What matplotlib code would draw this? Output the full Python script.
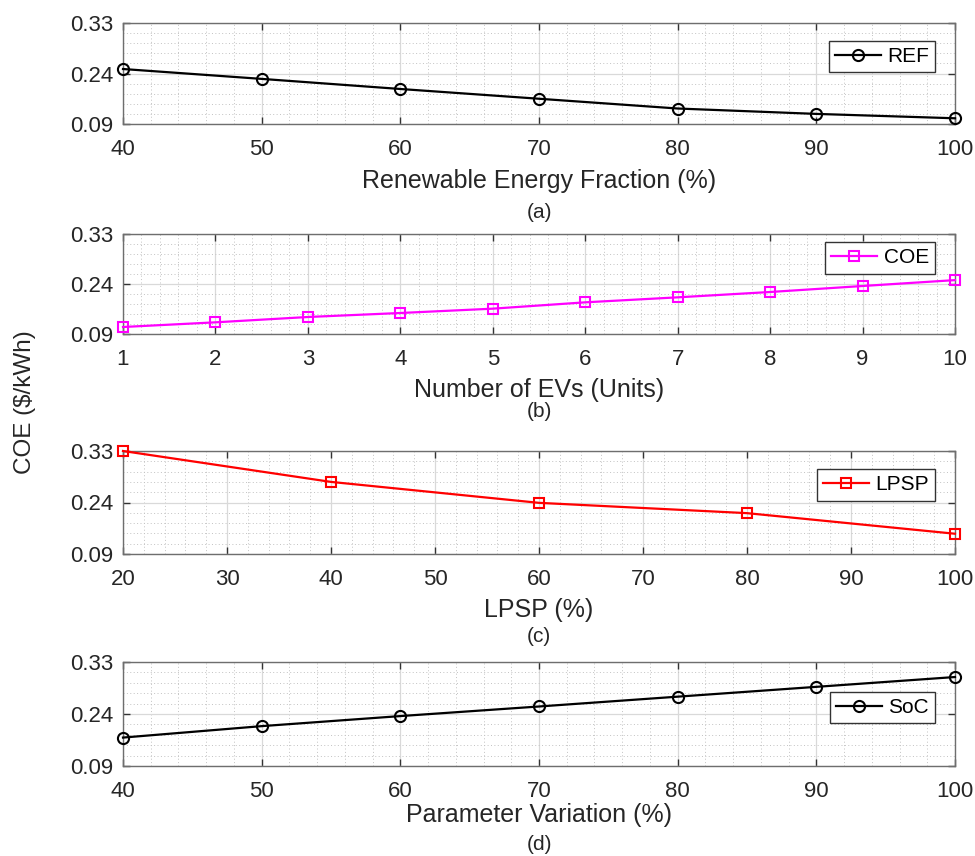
import numpy as np
import matplotlib
matplotlib.use("Agg")
import matplotlib.pyplot as plt
from matplotlib.ticker import FixedLocator, MultipleLocator

plt.rcParams['font.family'] = ['Liberation Sans', 'DejaVu Sans']

# labelled COE levels, drawn evenly spaced on every panel
y_levels = [0.09, 0.24, 0.33]

ref_x = [40, 50, 60, 70, 80, 90, 100]
ref_y = [0.248, 0.224, 0.194, 0.165, 0.136, 0.120, 0.107]

ev_x = [1, 2, 3, 4, 5, 6, 7, 8, 9, 10]
ev_y = [0.111, 0.125, 0.141, 0.153, 0.166, 0.185, 0.200, 0.216, 0.234, 0.247]

lpsp_x = [20, 40, 60, 80, 100]
lpsp_y = [0.330, 0.276, 0.239, 0.209, 0.149]

soc_x = [40, 50, 60, 70, 80, 90, 100]
soc_y = [0.172, 0.205, 0.234, 0.253, 0.270, 0.287, 0.304]


def fwd(v):
    v = np.asarray(v, dtype=float)
    lo, mid, hi = y_levels
    return np.where(v <= mid, (v - lo) / (mid - lo), 1 + (v - mid) / (hi - mid))


def inv(s):
    s = np.asarray(s, dtype=float)
    lo, mid, hi = y_levels
    return np.where(s <= 1, lo + (mid - lo) * s, mid + (hi - mid) * (s - 1))


W, H = 975, 856
fig = plt.figure(figsize=(W / 100, H / 100), dpi=100)

# (top px, bottom px, x, y, color, marker, label, xlim, xstep, xminor, xlabel, letter,
#  legend top frac, xlabel y px, letter y px)
panels = [
    (23, 124, ref_x, ref_y, 'black', 'o', 'REF', (40, 100), 10, 2,
     'Renewable Energy Fraction (%)', '(a)', 0.822, 181, 213),
    (234, 334, ev_x, ev_y, '#ff00ff', 's', 'COE', (1, 10), 1, 0.2,
     'Number of EVs (Units)', '(b)', 0.92, 390, 411),
    (451, 554, lpsp_x, lpsp_y, '#ff0000', 's', 'LPSP', (20, 100), 10, 2,
     'LPSP (%)', '(c)', 0.825, 610, 636),
    (662, 766, soc_x, soc_y, 'black', 'o', 'SoC', (40, 100), 10, 2,
     'Parameter Variation (%)', '(d)', 0.712, 815, 845),
]

left, right = 123, 955
for (top, bot, xs, ys, col, mk, lab, xl, xstep, xminor, xlabel, letter,
     legtop, xlab_y, let_y) in panels:
    ax = fig.add_axes([left / W, 1 - bot / H, (right - left) / W, (bot - top) / H])
    ax.set_yscale('function', functions=(fwd, inv))
    ms = 8 if mk == 'o' else 7
    ax.plot(xs, ys, color=col, marker=mk, markersize=ms, markerfacecolor='none',
            markeredgewidth=1.5, linewidth=1.6, label=lab, clip_on=False, zorder=5)
    ax.set_xlim(*xl)
    ax.set_ylim(y_levels[0], y_levels[-1])
    ax.xaxis.set_major_locator(MultipleLocator(xstep))
    ax.xaxis.set_minor_locator(MultipleLocator(xminor))
    ax.yaxis.set_major_locator(FixedLocator(y_levels))
    ax.yaxis.set_minor_locator(FixedLocator(inv(np.linspace(0, 2, 11))))
    ax.set_yticklabels([f'{v:.2f}' for v in y_levels])
    ax.grid(which='major', color='#d9d9d9', linewidth=0.9, linestyle='-')
    ax.grid(which='minor', color='#c2c2c2', linewidth=0.7, linestyle=(0, (1, 2.5)))
    ax.set_axisbelow(True)
    ax.tick_params(which='major', direction='in', length=5, width=1, color='#333333',
                   top=True, right=True, labelsize=16, labelcolor='#262626')
    ax.tick_params(axis='x', which='major', pad=11)
    ax.tick_params(axis='y', which='major', pad=7)
    ax.tick_params(which='minor', length=0)
    for sp in ax.spines.values():
        sp.set_color('#6e6e6e')
        sp.set_linewidth(1.0)
    leg = ax.legend(loc='upper right', bbox_to_anchor=(0.976, legtop), borderaxespad=0,
                    fontsize=15, handlelength=2.2, handletextpad=0.3,
                    borderpad=0.3, fancybox=False, framealpha=1)
    leg.get_frame().set_edgecolor('#333333')
    leg.get_frame().set_linewidth(1.0)
    fig.text((left + right) / 2 / W, 1 - xlab_y / H, xlabel, ha='center', va='center',
             fontsize=18, color='#262626')
    fig.text((left + right) / 2 / W, 1 - let_y / H, letter, ha='center', va='center',
             fontsize=15, color='#262626')

fig.text(25 / W, 1 - 402 / H, r'COE (\$/kWh)', rotation=90, ha='center', va='center',
         fontsize=17.5, color='#262626')

fig.savefig('out.png', dpi=100)
